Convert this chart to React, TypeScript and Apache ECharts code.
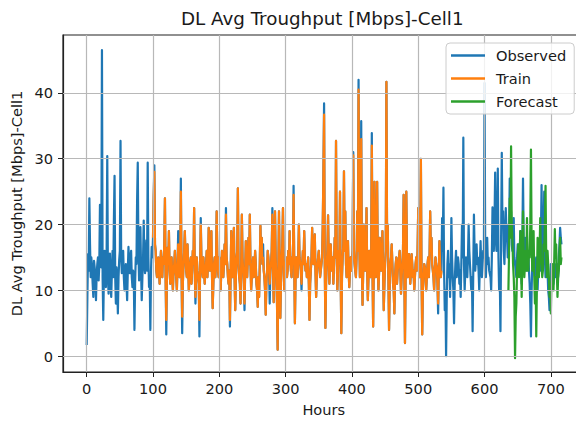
import React, { useEffect, useRef } from "react";
import * as echarts from "echarts";

const TITLE = "DL Avg Troughput [Mbps]-Cell1";
const X_LABEL = "Hours";
const Y_LABEL = "DL Avg Troughput [Mbps]-Cell1";
const SERIES_NAMES = ["Observed", "Train", "Forecast"];
const SERIES_COLORS = ["#1f77b4", "#ff7f0e", "#2ca02c"];

const xTicks = [0, 100, 200, 300, 400, 500, 600, 700];
const yTicks = [0, 10, 20, 30, 40];

const stepHours = 1;
const observedStart = 0;
const trainStart = 100;
const forecastStart = 636;

// Observed, hourly, hours 0-99
const observedHead = [
  1.7, 9, 15.5, 13, 24, 17, 12, 15, 13.5, 11,
  9, 14.5, 13.5, 11, 8.5, 12.5, 14, 15, 11.5, 14,
  23, 16, 13.5, 46.5, 12, 5.5, 13, 16, 12, 10.5,
  15, 30.4, 12, 9.5, 14, 15.6, 11, 9, 13, 16,
  12, 20.6, 27.4, 12, 8, 13.5, 11, 6.5, 12, 14.6,
  16, 32.7, 15, 12.6, 14, 16, 12, 10, 13, 14,
  11, 8.5, 13, 16.6, 14, 12.6, 15, 16, 12, 10.5,
  13, 12, 4, 11, 15, 14, 23.6, 29.4, 16, 11.5,
  14, 19.6, 13, 8.5, 12, 15, 20.6, 14, 12.6, 15,
  17.6, 13, 29.4, 15, 10.5, 12, 4, 13, 16.6, 15,
];

// Observed, hourly, hours 100-535 (under the Train line)
const observedMiddle = [
  18, 24, 29, 17, 16, 13, 12, 14, 15, 13,
  11, 14, 16, 14, 12, 15, 14, 17, 24, 12,
  3.3, 12, 16.5, 14, 19, 13, 11, 13, 15, 12,
  10, 13, 14, 16, 13, 12, 10, 14, 19, 13,
  12, 15, 27, 13, 3.5, 11, 14, 16, 19, 15,
  13, 12, 17, 14, 10, 12, 14, 15, 11, 13,
  16, 14, 22.5, 13, 8, 12, 15, 13, 12, 11,
  3, 13, 21, 15, 13, 12, 15, 13, 11, 13,
  14, 16, 12, 14, 19.5, 15, 13, 14, 19, 12,
  7.3, 11, 14, 15, 12, 14, 22, 15, 13, 12,
  15, 13, 10, 13, 16, 14, 12, 14, 17, 14,
  22.5, 15, 14, 12, 11, 13, 4.5, 12, 19, 14,
  12, 15, 19.5, 12, 7, 12, 15, 16, 25.5, 14,
  12, 11, 8, 14, 21.5, 15, 13, 11, 7, 13,
  17.5, 14, 12, 15, 18, 14, 21.5, 14, 10, 12,
  14, 15, 12, 13, 16, 14, 11, 10, 7.5, 12,
  9, 14, 19.8, 15, 18, 14, 17, 13, 12, 10,
  6.3, 11, 13, 16, 15, 13, 8, 13, 14, 16,
  22.5, 13, 8.2, 14, 22, 15, 12, 8, 1, 13,
  22, 14, 5.8, 11, 15, 17, 22.5, 14, 10, 12,
  14, 15, 12, 13, 16, 14, 19, 15, 13, 12,
  15, 14, 25.9, 14, 5, 12, 15, 13, 12, 15,
  20, 15, 14, 13, 10, 14, 16, 14, 19, 15,
  13, 14, 12, 13, 15, 11, 5.5, 11, 13, 15,
  19.5, 15, 14, 16, 18.5, 13, 9, 12, 14, 15,
  16, 14, 12, 13, 14, 15, 20, 28, 38.4, 14,
  4.3, 11, 14, 16, 21.4, 15, 11, 14, 17, 14,
  13, 15, 11, 14, 18, 15, 32.7, 16, 10, 13,
  16, 14, 25, 12, 3.5, 12, 15, 17, 28.1, 16,
  22, 14, 12, 14, 17.5, 13, 10.5, 13, 15, 13,
  14, 16, 31, 16, 14, 13, 12, 15, 22, 16,
  42, 18, 12, 15, 35.7, 14, 7.8, 13, 20, 15,
  13, 14, 22.5, 13, 8.5, 12, 16, 14, 12, 15,
  33.9, 13, 4.5, 14, 26.5, 15, 12, 16, 26.5, 14,
  10, 13, 18, 15, 13, 14, 19, 13, 7, 11,
  14, 16, 41.7, 18, 20, 12, 4, 11, 14, 15,
  17, 14, 11, 10, 6.5, 12, 14, 15, 11, 13,
  13, 15, 16, 13, 9.5, 12, 14, 16, 24.5, 13,
  2, 12, 25, 15, 12, 14, 15.5, 13, 11, 13,
  15.5, 14, 12, 13, 10, 12, 14, 15, 13, 16,
  22.5, 15, 12, 17, 30, 12, 3.3, 10, 12, 14,
  14, 13, 10, 12, 14, 15, 12, 15, 22, 16,
  18, 14, 13, 12, 10, 13, 15, 14, 13.5, 11,
  6.5, 13, 17.5, 14, 12, 13,
];

// Observed, hourly, hours 536-716
const observedTail = [
  21, 16, 25.6, 13, 7, 10, 0, 9, 14, 16,
  12, 14, 9, 13, 21, 15, 12, 10, 5, 11,
  14, 16, 12, 13, 15, 14, 11, 13, 9, 14,
  20, 15, 33.2, 14, 10, 13, 15, 14, 12, 15,
  20, 16, 14, 12, 10, 12, 3.8, 13, 21.5, 16,
  13, 15, 17, 14, 15, 13, 10, 14, 17.5, 14,
  12, 14, 16, 15, 41.5, 16, 12, 15, 18, 14,
  15, 13, 13, 12, 10, 15, 22.6, 17, 16, 20,
  27.9, 18, 16, 19, 28.5, 15, 10, 12, 3.8, 18,
  30.9, 20, 22, 16, 14, 18, 22.5, 19, 18, 15,
  20, 18, 27, 21, 22, 17, 16, 19, 21, 15,
  14, 13, 12, 15, 17, 13, 14, 16, 19, 14,
  11, 17, 27, 18, 15, 14, 18, 15, 13, 14,
  16, 13, 11, 8, 3, 10, 14, 15, 16, 13,
  12, 14, 15, 13, 10, 13, 17, 15, 13, 18,
  26, 17, 14, 18, 25, 15, 12, 14, 16, 13,
  10, 9, 7, 11, 14, 13, 12, 13, 11, 12,
  14, 13, 12, 14, 13, 12, 15, 17, 19.5, 18,
  17,
];

// Train, hourly, hours 100-535
const trainValues = [
  18, 24, 28, 17, 16, 13, 12, 14, 15, 13,
  11, 14, 16, 14, 12, 15, 14, 17, 24, 12,
  5.5, 12, 16.5, 14, 19, 13, 11, 13, 15, 12,
  10, 13, 14, 16, 13, 12, 10, 14, 17, 13,
  12, 15, 25, 13, 6, 11, 14, 16, 19, 15,
  13, 12, 17, 14, 10, 12, 14, 15, 11, 13,
  16, 14, 22.5, 13, 9, 12, 15, 13, 12, 11,
  5.5, 13, 20, 15, 13, 12, 15, 13, 11, 13,
  14, 16, 12, 14, 19.5, 15, 13, 14, 19, 12,
  7.3, 11, 14, 15, 12, 14, 22, 15, 13, 12,
  15, 13, 10, 13, 16, 14, 12, 14, 17, 14,
  21.5, 15, 14, 12, 11, 13, 5.5, 12, 19, 14,
  12, 15, 19.5, 12, 7, 12, 15, 16, 25.5, 14,
  12, 11, 8, 14, 21.5, 15, 13, 11, 8, 13,
  17.5, 14, 12, 15, 18, 14, 21.5, 14, 10, 12,
  14, 15, 12, 13, 16, 14, 11, 10, 7.5, 12,
  9, 14, 19.8, 15, 18, 14, 15, 13, 12, 10,
  6.3, 11, 13, 16, 15, 13, 11, 13, 14, 16,
  21.5, 13, 8.2, 14, 22, 15, 12, 8, 1, 13,
  22, 14, 5.8, 11, 15, 17, 22.5, 14, 10, 12,
  14, 15, 12, 13, 16, 14, 19, 15, 13, 12,
  15, 14, 24.5, 14, 5, 12, 15, 13, 12, 15,
  20, 15, 14, 13, 11, 14, 16, 14, 19, 15,
  13, 14, 12, 13, 15, 11, 5.5, 11, 13, 15,
  19.5, 15, 14, 16, 18.5, 13, 9, 12, 14, 15,
  16, 14, 12, 13, 14, 15, 20, 28, 36.7, 14,
  4.3, 11, 14, 16, 21.4, 15, 11, 14, 17, 14,
  13, 15, 11, 14, 18, 15, 32.7, 16, 10, 13,
  16, 14, 25, 12, 3.5, 12, 15, 17, 28.1, 16,
  22, 14, 12, 14, 17.5, 13, 10.5, 13, 15, 13,
  14, 16, 30.5, 16, 14, 13, 12, 15, 22, 16,
  40.5, 18, 12, 15, 33, 14, 7.8, 13, 20, 15,
  13, 14, 22.5, 13, 8.5, 12, 16, 14, 12, 15,
  32, 13, 4.5, 14, 26.5, 15, 12, 16, 26.5, 14,
  10, 13, 18, 15, 13, 14, 19, 13, 7, 11,
  14, 16, 41.7, 18, 20, 12, 4, 11, 14, 15,
  17, 14, 11, 10, 6.5, 12, 14, 15, 11, 13,
  13, 15, 16, 13, 9.5, 12, 14, 16, 24.5, 13,
  2, 12, 25, 15, 12, 14, 15.5, 13, 11, 13,
  15.5, 14, 12, 13, 10, 12, 14, 15, 13, 16,
  22.5, 15, 12, 17, 30, 12, 3.3, 10, 12, 14,
  14, 13, 10, 12, 14, 15, 12, 15, 22, 16,
  18, 14, 13, 12, 10, 13, 15, 14, 13.5, 11,
  8, 13, 17.5, 14, 12, 13,
];

// Forecast, hourly, hours 636-716
const forecastValues = [
  10, 16, 24, 18, 31.9, 20, 18, 14, 12, 9,
  -0.3, 6, 8, 13, 15, 17, 12, 15, 19, 14,
  9, 15, 22, 16, 12, 14, 16, 13, 21, 15,
  13, 16, 15, 20, 31.4, 17, 13, 16, 19, 12,
  8, 12, 3, 11, 18, 14, 12, 16, 21, 15,
  14, 12, 13, 17, 16, 20, 25.9, 15, 12, 16,
  14, 12, 9, 11, 6.5, 12, 14, 12, 10, 14,
  19.3, 15, 17, 13, 9, 12, 13, 16, 18, 14,
  15,
];

const X_MIN = -35.75;
const X_MAX = 750.75;
const Y_MIN = -2.4;
const Y_MAX = 48.8;

const FONT = "DejaVu Sans";
const TEXT_COLOR = "#1a1a1a";
const AXIS_COLOR = "#222222";
const GRID_COLOR = "#b8b8b8";

function toPairs(values: number[], start: number): number[][] {
  return values.map((v, i) => [start + i * stepHours, v]);
}

export default function App() {
  const ref = useRef<HTMLDivElement>(null);

  useEffect(() => {
    if (!ref.current) return;
    const chart = echarts.init(ref.current, undefined, { renderer: "svg" });

    const observedValues = [...observedHead, ...observedMiddle, ...observedTail];
    const seriesData = [
      toPairs(observedValues, observedStart),
      toPairs(trainValues, trainStart),
      toPairs(forecastValues, forecastStart),
    ];

    const option: any = {
      animation: false,
      backgroundColor: "#ffffff",
      graphic: [
        {
          type: "text",
          x: 322.2,
          y: 18.8,
          z: 20,
          style: {
            text: TITLE,
            fill: TEXT_COLOR,
            fontSize: 18.3,
            fontFamily: FONT,
            align: "center",
            verticalAlign: "middle",
          },
        },
      ],
      grid: {
        left: 63,
        top: 35,
        width: 521.5,
        height: 339.3,
        show: true,
        borderColor: AXIS_COLOR,
        borderWidth: 1.2,
        backgroundColor: "transparent",
      },
      legend: {
        data: SERIES_NAMES,
        orient: "vertical",
        left: 446,
        top: 43,
        z: 10,
        backgroundColor: "rgba(255,255,255,0.8)",
        borderColor: "#cccccc",
        borderWidth: 1,
        borderRadius: 4,
        padding: [4, 8, 4, 5],
        itemGap: 6,
        itemWidth: 34,
        itemHeight: 2.5,
        icon: "rect",
        textStyle: {
          fontSize: 14.6,
          fontFamily: FONT,
          color: TEXT_COLOR,
          lineHeight: 17,
          padding: [0, 0, 0, 6],
        },
      },
      xAxis: {
        type: "value",
        min: X_MIN,
        max: X_MAX,
        name: X_LABEL,
        nameLocation: "middle",
        nameGap: 30,
        nameTextStyle: { fontSize: 14.6, fontFamily: FONT, color: TEXT_COLOR },
        axisLine: { show: true, onZero: false, lineStyle: { color: AXIS_COLOR, width: 1.2 } },
        axisTick: { show: true, customValues: xTicks, length: 5, lineStyle: { color: AXIS_COLOR, width: 1 } },
        axisLabel: { customValues: xTicks, margin: 9, fontSize: 14.6, fontFamily: FONT, color: TEXT_COLOR },
        splitLine: { show: false },
      },
      yAxis: {
        type: "value",
        min: Y_MIN,
        max: Y_MAX,
        name: Y_LABEL,
        nameLocation: "middle",
        nameGap: 38,
        nameTextStyle: { fontSize: 14.6, fontFamily: FONT, color: TEXT_COLOR },
        axisLine: { show: true, onZero: false, lineStyle: { color: AXIS_COLOR, width: 1.2 } },
        axisTick: { show: true, customValues: yTicks, length: 5, lineStyle: { color: AXIS_COLOR, width: 1 } },
        axisLabel: { customValues: yTicks, margin: 10, fontSize: 14.6, fontFamily: FONT, color: TEXT_COLOR },
        splitLine: { show: false },
      },
      series: [
        {
          name: "gridlines",
          type: "line",
          data: [],
          silent: true,
          z: 1,
          markLine: {
            silent: true,
            animation: false,
            symbol: ["none", "none"],
            label: { show: false },
            emphasis: { disabled: true },
            lineStyle: { color: GRID_COLOR, width: 1.2, type: "solid" },
            data: [
              ...xTicks.map((v) => ({ xAxis: v })),
              ...yTicks.map((v) => ({ yAxis: v })),
            ],
          },
        },
        ...SERIES_NAMES.map((name, i) => ({
          name,
          type: "line",
          data: seriesData[i],
          showSymbol: false,
          symbol: "none",
          z: 2 + i,
          lineStyle: { width: 2.2, color: SERIES_COLORS[i], join: "round" },
          itemStyle: { color: SERIES_COLORS[i] },
          emphasis: { disabled: true },
        })),
      ],
    };

    chart.setOption(option);
    return () => chart.dispose();
  }, []);

  return (
    <div
      style={{
        position: "fixed",
        left: 0,
        top: 0,
        width: 576,
        height: 422,
        overflow: "hidden",
        background: "#ffffff",
      }}
    >
      <div ref={ref} style={{ width: 600, height: 422 }} />
    </div>
  );
}
